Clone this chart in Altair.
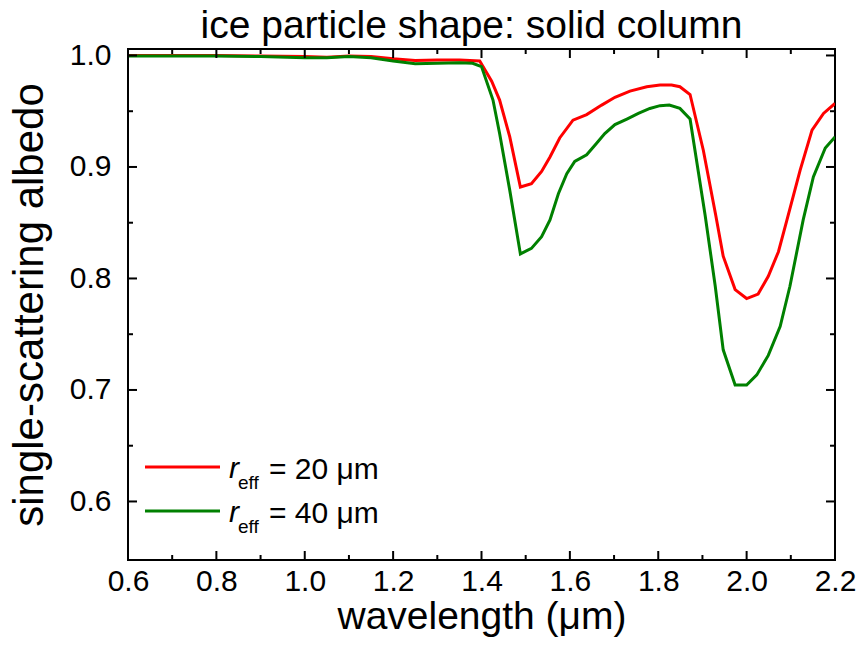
import altair as alt
import pandas as pd

# ---- data ----
wl_red = [0.60, 0.70, 0.80, 0.90, 1.00, 1.05, 1.10, 1.15, 1.20, 1.25, 1.30, 1.35, 1.396,
          1.423, 1.441, 1.464, 1.488, 1.513, 1.536, 1.555, 1.577, 1.607, 1.638, 1.672,
          1.702, 1.736, 1.774, 1.804, 1.830, 1.849, 1.872, 1.902, 1.930, 1.947, 1.974,
          2.000, 2.026, 2.049, 2.072, 2.091, 2.121, 2.148, 2.174, 2.200]
alb_red = [1.000, 1.000, 1.000, 0.9995, 0.999, 0.9985, 0.9995, 0.999, 0.997, 0.9955, 0.996, 0.996, 0.995,
           0.977, 0.960, 0.927, 0.882, 0.885, 0.896, 0.909, 0.926, 0.942, 0.947, 0.9555,
           0.9625, 0.968, 0.972, 0.9735, 0.9735, 0.972, 0.965, 0.915, 0.857, 0.820, 0.790,
           0.782, 0.786, 0.802, 0.824, 0.852, 0.897, 0.933, 0.948, 0.957]

wl_green = [0.60, 0.70, 0.80, 0.90, 1.00, 1.05, 1.10, 1.15, 1.20, 1.25, 1.30, 1.35, 1.38, 1.400,
            1.426, 1.441, 1.464, 1.488, 1.513, 1.536, 1.555, 1.574, 1.593, 1.611, 1.638, 1.660,
            1.679, 1.702, 1.729, 1.755, 1.781, 1.804, 1.825, 1.849, 1.872, 1.906, 1.929, 1.947,
            1.974, 2.000, 2.023, 2.049, 2.076, 2.098, 2.128, 2.151, 2.178, 2.200]
alb_green = [0.9995, 0.9995, 0.9995, 0.999, 0.998, 0.998, 0.999, 0.998, 0.995, 0.9925, 0.993, 0.9935, 0.993, 0.990,
             0.960, 0.930, 0.879, 0.822, 0.827, 0.8375, 0.8525, 0.876, 0.894, 0.905, 0.911, 0.921,
             0.930, 0.938, 0.943, 0.948, 0.9525, 0.955, 0.9555, 0.9525, 0.943, 0.857, 0.793, 0.736,
             0.7045, 0.7045, 0.7135, 0.731, 0.757, 0.793, 0.8525, 0.891, 0.917, 0.927]

series_labels = ["= 20 μm", "= 40 μm"]
series_colors = ["#ff0000", "#008000"]

x_major = [0.6, 0.8, 1.0, 1.2, 1.4, 1.6, 1.8, 2.0, 2.2]
x_minor = [0.7, 0.9, 1.1, 1.3, 1.5, 1.7, 1.9, 2.1]
y_major = [0.6, 0.7, 0.8, 0.9, 1.0]
y_minor = [0.65, 0.75, 0.85, 0.95]

W, H = 707, 511
FONT = "Liberation Sans"

xscale = alt.Scale(domain=[0.6, 2.2], nice=False, zero=False)
yscale = alt.Scale(domain=[0.5475, 1.0058], nice=False, zero=False)

xaxis = alt.Axis(values=x_major, format=".1f", title="wavelength (μm)",
                 labelFontSize=30, labelPadding=6, labelFlush=False, labelOverlap=False,
                 titleFontSize=39, titleBaseline="alphabetic", titleY=68)
yaxis = alt.Axis(values=y_major, format=".1f", title="single-scattering albedo",
                 labelFontSize=30, labelPadding=17, labelFlush=False, labelOverlap=False,
                 titleFontSize=42, titleBaseline="alphabetic", titleX=-86)

df_red = pd.DataFrame({"wavelength": wl_red, "albedo": alb_red})
df_green = pd.DataFrame({"wavelength": wl_green, "albedo": alb_green})

def xenc(field):
    return alt.X(field, scale=xscale, axis=xaxis, title="wavelength (μm)")

def yenc(field):
    return alt.Y(field, scale=yscale, axis=yaxis, title="single-scattering albedo")

red = alt.Chart(df_red).mark_line(color=series_colors[0], strokeWidth=3, clip=True).encode(
    x=xenc("wavelength:Q"), y=yenc("albedo:Q"))
green = alt.Chart(df_green).mark_line(color=series_colors[1], strokeWidth=3, clip=True).encode(
    x=xenc("wavelength:Q"), y=yenc("albedo:Q"))

layers = [red, green]

def xticks(vals, length):
    d = pd.DataFrame({"t": vals})
    bottom = alt.Chart(d).mark_rule(color="black", strokeWidth=2).encode(
        x=xenc("t:Q"), y=alt.value(H), y2=alt.value(H - length))
    top = alt.Chart(d).mark_rule(color="black", strokeWidth=2).encode(
        x=xenc("t:Q"), y=alt.value(0), y2=alt.value(length))
    return [bottom, top]

def yticks(vals, length):
    d = pd.DataFrame({"t": vals})
    left = alt.Chart(d).mark_rule(color="black", strokeWidth=2).encode(
        y=yenc("t:Q"), x=alt.value(0), x2=alt.value(length))
    right = alt.Chart(d).mark_rule(color="black", strokeWidth=2).encode(
        y=yenc("t:Q"), x=alt.value(W - length), x2=alt.value(W))
    return [left, right]

layers += xticks(x_major, 9) + xticks(x_minor, 5) + yticks(y_major, 9) + yticks(y_minor, 5)

# legend (inside, lower left)
one = pd.DataFrame({"d": [0]})
for i, (lab, col) in enumerate(zip(series_labels, series_colors)):
    y0 = 418 + i * 44
    layers.append(alt.Chart(one).mark_rule(color=col, strokeWidth=3).encode(
        x=alt.value(17), x2=alt.value(92), y=alt.value(y0)))
    layers.append(alt.Chart(one).mark_text(text="r", font=FONT, fontSize=30, fontStyle="italic",
                                           align="left", baseline="alphabetic", color="black").encode(
        x=alt.value(101), y=alt.value(y0 + 11)))
    layers.append(alt.Chart(one).mark_text(text="eff", font=FONT, fontSize=19,
                                           align="left", baseline="alphabetic", color="black").encode(
        x=alt.value(110), y=alt.value(y0 + 22)))
    layers.append(alt.Chart(one).mark_text(text=lab, font=FONT, fontSize=30,
                                           align="left", baseline="alphabetic", color="black").encode(
        x=alt.value(141), y=alt.value(y0 + 12)))

chart = alt.layer(*layers).properties(
    width=W, height=H,
    background="white",
    title=alt.TitleParams("ice particle shape: solid column", font=FONT, fontSize=39,
                          fontWeight="normal", color="black", anchor="middle",
                          baseline="alphabetic", offset=6, dx=-10, dy=43),
    autosize=alt.AutoSizeParams(type="none"),
    padding={"left": 128, "top": 49, "right": 23, "bottom": 89},
).configure_view(stroke="black", strokeWidth=2).configure_axis(
    domain=False, ticks=False, tickSize=0, grid=False,
    labelFont=FONT, titleFont=FONT, labelColor="black", titleColor="black",
    titleFontWeight="normal",
)

chart.save("out.html", embed_options={"renderer": "svg", "actions": False})
